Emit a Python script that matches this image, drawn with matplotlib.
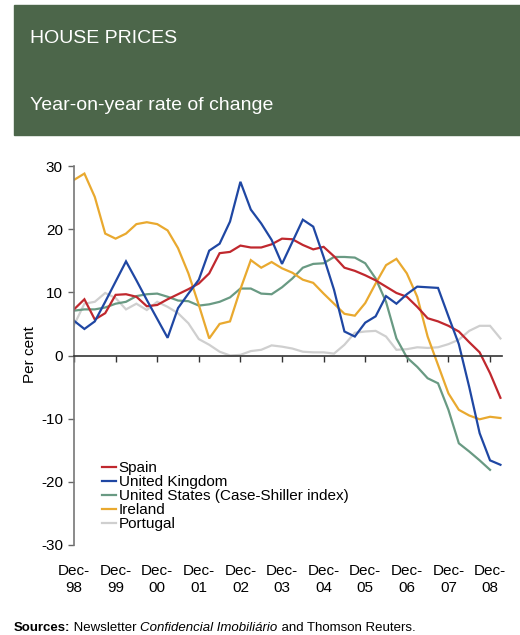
import numpy as np
import matplotlib.pyplot as plt
import matplotlib.patches as mpatches

plt.rcParams["font.family"] = ["Liberation Sans", "DejaVu Sans"]
plt.rcParams["axes.unicode_minus"] = False

# Quarterly year-on-year change (%), starting Dec-98
spain = [7.3, 8.9, 5.7, 6.7, 9.6, 9.7, 9.3, 7.8, 8.0, 8.9,
         9.7, 10.5, 11.4, 13.0, 16.2, 16.4, 17.4, 17.1, 17.1, 17.6,
         18.5, 18.4, 17.5, 16.8, 17.2, 15.7, 13.9, 13.4, 12.7, 11.9,
         10.9, 9.9, 9.3, 7.7, 5.9, 5.4, 4.7, 3.8, 2.1, 0.5,
         -2.8, -6.7]
uk = [5.5, 4.2, 5.4, 8.5, 11.7, 14.9, 11.9, 8.8, 5.8, 2.8,
      7.5, 9.8, 12.0, 16.6, 17.7, 21.2, 27.5, 23.1, 20.9, 18.3,
      14.5, 18.0, 21.5, 20.4, 15.6, 10.4, 3.8, 3.0, 5.2, 6.2,
      9.4, 8.2, 9.7, 10.9, 10.8, 10.7, 6.2, 1.8, -5.0, -12.3,
      -16.6, -17.3]
us = [7.1, 7.3, 7.3, 7.6, 8.2, 8.5, 9.4, 9.7, 9.8, 9.3,
      8.7, 8.6, 7.9, 8.1, 8.5, 9.2, 10.6, 10.6, 9.8, 9.7,
      10.8, 12.2, 13.9, 14.5, 14.6, 15.6, 15.6, 15.5, 14.6, 12.2,
      8.5, 2.7, -0.3, -1.8, -3.6, -4.4, -8.6, -13.9, -15.2, -16.6,
      -18.1]
ireland = [27.8, 28.8, 25.1, 19.3, 18.5, 19.3, 20.8, 21.1, 20.8, 19.8,
           17.0, 13.0, 8.0, 2.7, 5.0, 5.4, 10.5, 15.1, 13.9, 14.8,
           13.8, 13.1, 12.0, 11.5, 9.8, 8.2, 6.6, 6.3, 8.3, 11.4,
           14.3, 15.3, 13.0, 9.3, 3.0, -1.5, -6.0, -8.6, -9.5, -10.1,
           -9.7, -9.9]
portugal = [4.8, 8.2, 8.5, 9.9, 9.1, 7.3, 8.2, 7.2, 8.5, 7.7,
            6.7, 5.1, 2.6, 1.7, 0.6, 0.0, 0.1, 0.7, 0.9, 1.6,
            1.4, 1.1, 0.6, 0.5, 0.5, 0.3, 1.7, 3.6, 3.8, 3.9,
            3.0, 0.9, 1.0, 1.3, 1.2, 1.3, 1.8, 2.5, 3.9, 4.7,
            4.7, 2.7]

series_names = ["Spain", "United Kingdom", "United States (Case-Shiller index)",
                "Ireland", "Portugal"]
series_values = [spain, uk, us, ireland, portugal]
series_colours = ["#c0282e", "#1f47a3", "#699a83", "#e9a92f", "#cfcfcf"]

year_labels = ["Dec-\n98", "Dec-\n99", "Dec-\n00", "Dec-\n01", "Dec-\n02", "Dec-\n03",
               "Dec-\n04", "Dec-\n05", "Dec-\n06", "Dec-\n07", "Dec-\n08"]
year_ticks = np.arange(len(year_labels)) * 4

W, H = 520, 635
fig = plt.figure(figsize=(W / 100, H / 100), dpi=100)

# header band
fig.patches.append(mpatches.Rectangle((14 / W, 1 - 135 / H), 1 - 14 / W, 130 / H,
                                      transform=fig.transFigure, color="#4c664a", zorder=0))
fig.text(30 / W, 1 - 43 / H, "HOUSE PRICES", color="white", fontsize=14, va="baseline")
fig.text(30 / W, 1 - 110 / H, "Year-on-year rate of change", color="white",
         fontsize=14, va="baseline")

ax = fig.add_axes([74 / W, 1 - 545 / H, 428 / W, 379 / H])

# Portugal drawn first so the darker lines sit on top
order = [4, 2, 3, 0, 1]
lines = {}
for k in order:
    vals = series_values[k]
    lines[k], = ax.plot(np.arange(len(vals)), vals, color=series_colours[k],
                        lw=1.6, solid_joinstyle="miter", label=series_names[k])

ax.set_xlim(0, 41.15)
ax.set_ylim(-30, 30)
ax.set_yticks(range(-30, 31, 10))
ax.tick_params(axis="y", direction="out", length=4, width=1, color="#666666",
               labelsize=11, pad=4)

for s in ["top", "right"]:
    ax.spines[s].set_visible(False)
ax.spines["left"].set_color("#777777")
ax.spines["left"].set_linewidth(1.2)
ax.spines["bottom"].set_position(("data", 0))
ax.spines["bottom"].set_color("#333333")
ax.spines["bottom"].set_linewidth(1.2)
ax.set_xticks(year_ticks)
ax.tick_params(axis="x", direction="out", length=4, width=1, color="#333333",
               labelbottom=False)

# year labels along the bottom edge
sec = ax.secondary_xaxis(0.0)
sec.set_xticks(year_ticks)
sec.set_xticklabels(year_labels, fontsize=11, linespacing=1.25)
sec.tick_params(length=0, pad=13.5)
sec.spines["bottom"].set_visible(False)

fig.text(30 / W, 1 - 355 / H, "Per cent", rotation=90, fontsize=11,
         ha="center", va="center")

ax.legend(handles=[lines[k] for k in range(5)], loc="upper left",
          bbox_to_anchor=(102 / W, 1 - 461 / H), bbox_transform=fig.transFigure,
          frameon=False, fontsize=11, handlelength=0.9, handletextpad=0.2,
          labelspacing=0.0, borderpad=0, borderaxespad=0)

# source line with mixed styles
t1 = fig.text(14 / W, 1 - 631 / H, "Sources:", fontsize=9.5, fontweight="bold",
              va="baseline")
t2 = fig.text(0, 0, " Newsletter ", fontsize=9.5, va="baseline")
t3 = fig.text(0, 0, "Confidencial Imobiliário", fontsize=9.5, style="italic",
              va="baseline")
t4 = fig.text(0, 0, " and Thomson Reuters.", fontsize=9.5, va="baseline")
fig.canvas.draw()
r = fig.canvas.get_renderer()
prev = t1
for t in [t2, t3, t4]:
    bb = prev.get_window_extent(r)
    x0 = bb.x1 / fig.bbox.width
    t.set_position((x0, 1 - 631 / H))
    fig.canvas.draw()
    prev = t

fig.savefig("out.png", dpi=100)
